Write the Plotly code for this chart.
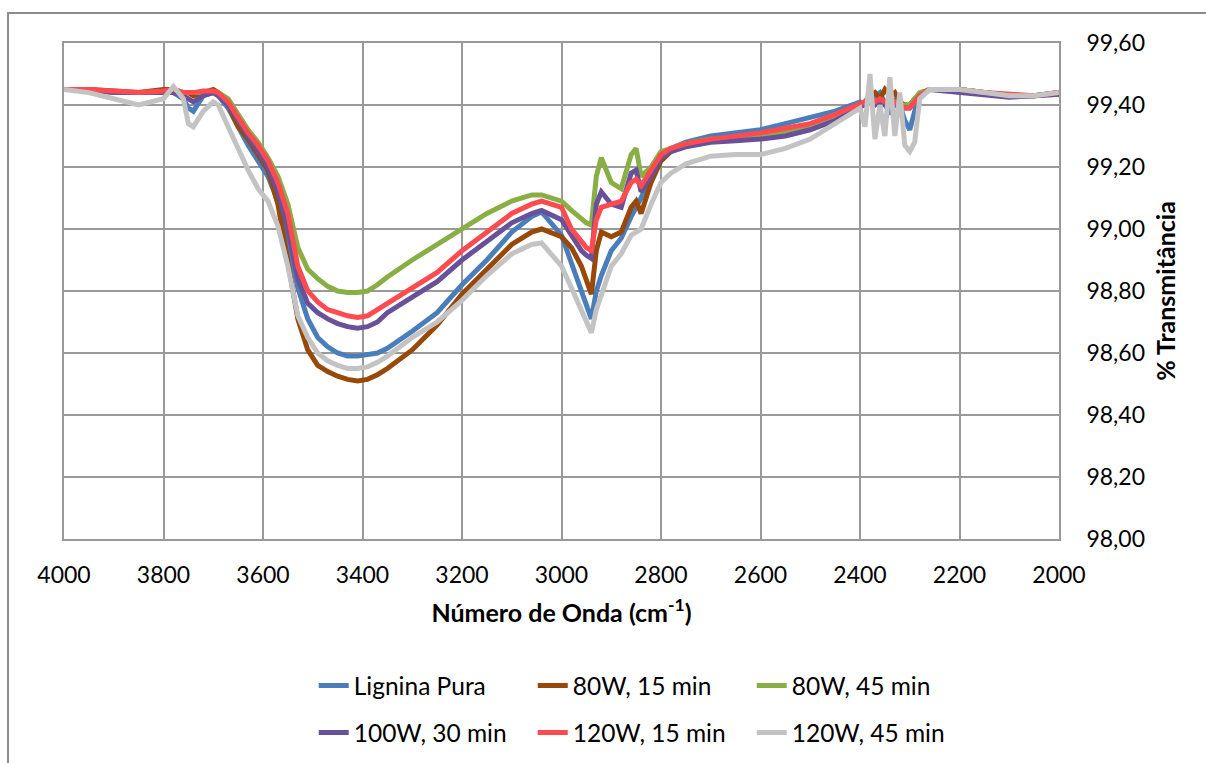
import plotly.graph_objects as go

# Wavenumber grid (cm-1)
WN = [4000, 3950, 3900, 3850, 3800, 3780, 3760, 3750, 3740, 3720,
      3700, 3690, 3670, 3650, 3630, 3610, 3590, 3570, 3550, 3530,
      3510, 3490, 3470, 3450, 3430, 3410, 3390, 3370, 3350, 3300,
      3250, 3200, 3150, 3100, 3060, 3040, 3000, 2980, 2960, 2950,
      2940, 2930, 2920, 2900, 2880, 2860, 2850, 2840, 2820, 2800,
      2780, 2750, 2700, 2650, 2600, 2550, 2500, 2450, 2400, 2390,
      2380, 2370, 2360, 2350, 2340, 2330, 2320, 2310, 2300, 2290,
      2280, 2260, 2200, 2150, 2100, 2050, 2000]

lignina_pura = [99.45, 99.45, 99.44, 99.44, 99.44, 99.44, 99.42, 99.39, 99.38, 99.43,
                99.44, 99.43, 99.39, 99.33, 99.27, 99.22, 99.17, 99.09, 98.96, 98.81,
                98.71, 98.65, 98.62, 98.60, 98.59, 98.59, 98.595, 98.60, 98.615, 98.67,
                98.73, 98.82, 98.90, 98.99, 99.04, 99.055, 98.98, 98.89, 98.80, 98.75,
                98.71, 98.80, 98.85, 98.93, 98.97, 99.04, 99.07, 99.10, 99.18, 99.24,
                99.26, 99.28, 99.30, 99.31, 99.32, 99.34, 99.36, 99.38, 99.41, 99.40,
                99.41, 99.43, 99.44, 99.40, 99.37, 99.42, 99.40, 99.35, 99.32, 99.38,
                99.43, 99.45, 99.45, 99.44, 99.43, 99.43, 99.44]

w80_15 = [99.45, 99.45, 99.445, 99.44, 99.45, 99.45, 99.44, 99.44, 99.43, 99.44,
          99.45, 99.44, 99.40, 99.33, 99.29, 99.24, 99.19, 99.08, 98.90, 98.71,
          98.61, 98.56, 98.54, 98.525, 98.515, 98.51, 98.515, 98.53, 98.55, 98.61,
          98.69, 98.79, 98.87, 98.95, 98.99, 99.00, 98.975, 98.94, 98.88, 98.83,
          98.79, 98.93, 98.99, 98.975, 98.99, 99.07, 99.09, 99.05, 99.15, 99.22,
          99.25, 99.27, 99.29, 99.295, 99.30, 99.315, 99.33, 99.36, 99.40, 99.41,
          99.43, 99.44, 99.42, 99.45, 99.43, 99.44, 99.41, 99.40, 99.40, 99.42,
          99.43, 99.45, 99.45, 99.44, 99.43, 99.43, 99.44]

w80_45 = [99.45, 99.45, 99.44, 99.44, 99.44, 99.45, 99.44, 99.44, 99.44, 99.44,
          99.44, 99.44, 99.42, 99.37, 99.32, 99.28, 99.23, 99.17, 99.08, 98.94,
          98.87, 98.84, 98.815, 98.80, 98.795, 98.795, 98.80, 98.82, 98.845, 98.90,
          98.95, 99.00, 99.05, 99.09, 99.11, 99.11, 99.09, 99.06, 99.035, 99.02,
          99.013, 99.17, 99.23, 99.15, 99.13, 99.24, 99.26, 99.17, 99.20, 99.25,
          99.26, 99.275, 99.29, 99.29, 99.30, 99.31, 99.33, 99.36, 99.40, 99.41,
          99.41, 99.41, 99.41, 99.41, 99.41, 99.41, 99.40, 99.40, 99.40, 99.42,
          99.44, 99.45, 99.45, 99.44, 99.43, 99.43, 99.435]

w100_30 = [99.45, 99.45, 99.44, 99.44, 99.44, 99.44, 99.43, 99.42, 99.41, 99.43,
           99.44, 99.43, 99.40, 99.35, 99.30, 99.25, 99.20, 99.12, 99.00, 98.84,
           98.76, 98.73, 98.71, 98.695, 98.685, 98.68, 98.685, 98.70, 98.73, 98.78,
           98.83, 98.90, 98.96, 99.02, 99.05, 99.06, 99.03, 98.98, 98.93, 98.915,
           98.905, 99.08, 99.12, 99.08, 99.07, 99.18, 99.19, 99.12, 99.17, 99.23,
           99.25, 99.265, 99.28, 99.285, 99.29, 99.30, 99.32, 99.35, 99.39, 99.40,
           99.41, 99.40, 99.41, 99.40, 99.41, 99.40, 99.39, 99.39, 99.39, 99.41,
           99.43, 99.45, 99.44, 99.435, 99.425, 99.43, 99.435]

w120_15 = [99.45, 99.45, 99.445, 99.44, 99.445, 99.45, 99.44, 99.44, 99.44, 99.445,
           99.445, 99.44, 99.41, 99.36, 99.31, 99.27, 99.22, 99.15, 99.05, 98.88,
           98.80, 98.765, 98.74, 98.73, 98.72, 98.715, 98.72, 98.74, 98.76, 98.81,
           98.86, 98.93, 98.99, 99.05, 99.08, 99.09, 99.07, 99.00, 98.96, 98.94,
           98.93, 99.03, 99.07, 99.08, 99.09, 99.15, 99.16, 99.14, 99.19, 99.24,
           99.26, 99.275, 99.29, 99.30, 99.31, 99.325, 99.34, 99.37, 99.40, 99.41,
           99.42, 99.41, 99.42, 99.41, 99.42, 99.41, 99.40, 99.39, 99.39, 99.41,
           99.43, 99.45, 99.45, 99.44, 99.435, 99.43, 99.44]

w120_45 = [99.45, 99.44, 99.42, 99.40, 99.42, 99.46, 99.42, 99.34, 99.33, 99.38,
           99.41, 99.40, 99.33, 99.26, 99.19, 99.13, 99.09, 99.01, 98.88, 98.72,
           98.65, 98.60, 98.575, 98.56, 98.55, 98.55, 98.555, 98.57, 98.59, 98.65,
           98.70, 98.77, 98.85, 98.92, 98.95, 98.955, 98.88, 98.81, 98.74, 98.70,
           98.665, 98.74, 98.79, 98.88, 98.92, 98.98, 98.99, 99.00, 99.08, 99.15,
           99.18, 99.21, 99.235, 99.24, 99.24, 99.26, 99.29, 99.34, 99.39, 99.33,
           99.50, 99.29, 99.40, 99.30, 99.49, 99.30, 99.44, 99.27, 99.25, 99.28,
           99.42, 99.45, 99.45, 99.44, 99.43, 99.43, 99.44]

NAMES = ["Lignina Pura", "80W, 15 min", "80W, 45 min",
         "100W, 30 min", "120W, 15 min", "120W, 45 min"]
SERIES = [lignina_pura, w80_15, w80_45, w100_30, w120_15, w120_45]
COLORS = ["#4A7EBB", "#984807", "#8AAE46", "#69519A", "#FF4B4F", "#C3C3C3"]
LEGENDS = ["legend", "legend", "legend", "legend2", "legend2", "legend2"]

X_TICKS = [4000, 3800, 3600, 3400, 3200, 3000, 2800, 2600, 2400, 2200, 2000]
Y_TICKS = [98.0, 98.2, 98.4, 98.6, 98.8, 99.0, 99.2, 99.4, 99.6]

fig = go.Figure()
for name, vals, col, lg in zip(NAMES, SERIES, COLORS, LEGENDS):
    fig.add_trace(go.Scatter(x=WN, y=vals, name=name, mode="lines",
                             line=dict(color=col, width=5), legend=lg))

GRID = "#999999"
FONT = "Lato"
TICK_FONT = dict(family=FONT, size=23, color="black")
LEG_FONT = dict(family=FONT, size=24.5, color="black")
TITLE_FONT = dict(family=FONT, size=25, color="black")

fig.update_layout(
    width=1206, height=763,
    margin=dict(l=64, r=147, t=43, b=224, autoexpand=False),
    paper_bgcolor="white", plot_bgcolor="white",
    font=dict(family=FONT, size=22, color="black"),
    separators=",.",
    showlegend=True,
    legend=dict(orientation="h", x=0.251, xanchor="left", y=-0.250, yanchor="top",
                entrywidth=174, entrywidthmode="pixels", font=LEG_FONT,
                bgcolor="rgba(0,0,0,0)", traceorder="normal"),
    legend2=dict(orientation="h", x=0.251, xanchor="left", y=-0.345, yanchor="top",
                 entrywidth=174, entrywidthmode="pixels", font=LEG_FONT,
                 bgcolor="rgba(0,0,0,0)", traceorder="normal"),
    xaxis=dict(range=[4000, 2000], tickvals=X_TICKS, ticktext=[str(v) for v in X_TICKS],
               showgrid=True, gridcolor=GRID, gridwidth=1.6,
               showline=True, mirror=True, linecolor=GRID, linewidth=1.6,
               zeroline=False, ticks="", ticklabelstandoff=15,
               tickfont=TICK_FONT,
               title=dict(text="<b>Número de Onda (cm<sup>-1</sup>)</b>", standoff=17,
                          font=TITLE_FONT)),
    yaxis=dict(range=[98.0, 99.6], tickvals=Y_TICKS, tickformat=".2f", side="right",
               showgrid=True, gridcolor=GRID, gridwidth=1.6,
               showline=True, mirror=True, linecolor=GRID, linewidth=1.6,
               zeroline=False, ticks="", ticklabelstandoff=21,
               tickfont=TICK_FONT,
               title=dict(text="<b>% Transmitância</b>", standoff=14,
                          font=TITLE_FONT)),
)

# Outer chart-area border (only left and top edges fall inside the image)
fig.add_shape(type="rect", xref="paper", yref="paper",
              x0=-0.0563, x1=1.3, y0=-0.6, y1=1.0605,
              line=dict(color="#8c8c8c", width=2), fillcolor="rgba(0,0,0,0)",
              layer="below")

fig.write_html("out.html")
